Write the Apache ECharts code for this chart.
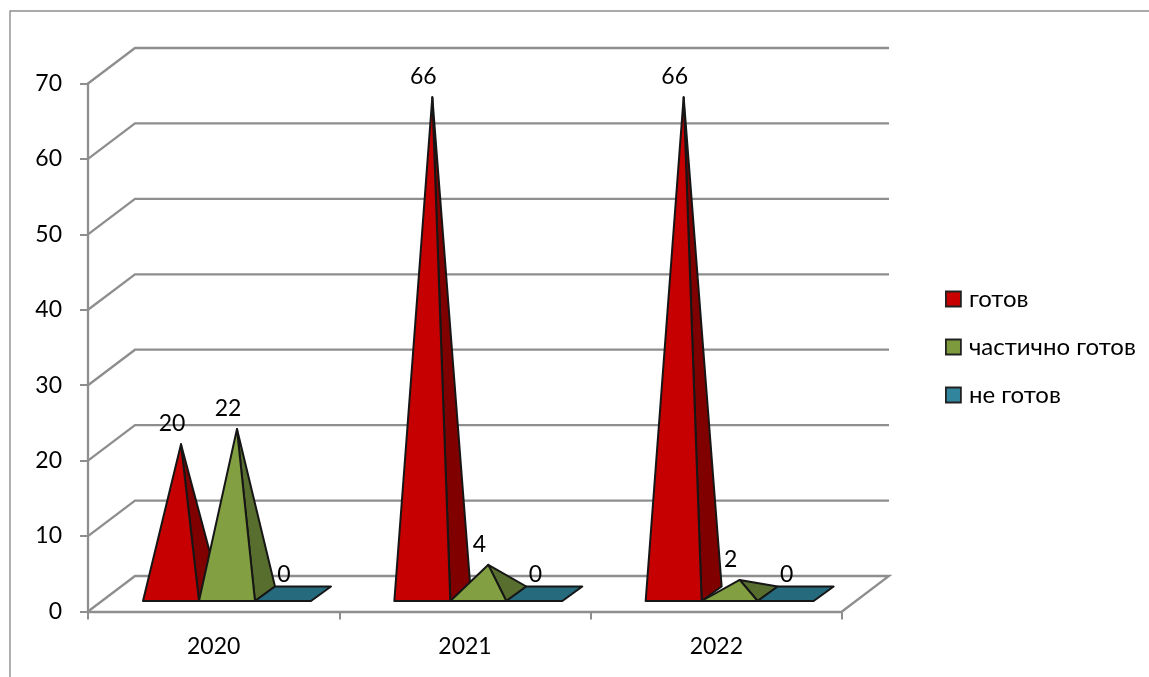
<!DOCTYPE html>
<html>
<head>
<meta charset="utf-8">
<style>html,body{margin:0;padding:0;background:#fff}#c{width:1149px;height:677px}</style>
<script src="https://cdn.jsdelivr.net/npm/echarts@6/dist/echarts.min.js"></script>
</head>
<body>
<div id="c"></div>
<script>
const categories = ['2020', '2021', '2022'];
const ready = [20, 66, 66];
const partial = [22, 4, 2];
const notReady = [0, 0, 0];
const yTicks = [0, 10, 20, 30, 40, 50, 60, 70];
const seriesNames = ['готов', 'частично готов', 'не готов'];

const FONT = 'Lato, Carlito, "Open Sans", sans-serif';
const GRAY = '#8e8e8e';
const INK = '#161616';
const WALL = [47, -35.5];
const DEPTH = [20, -14.5];
const palette = [
  {legend: '#c80000', front: '#c60000', side: '#800000'},
  {legend: '#7d9a3c', front: '#82a041', side: '#586e2e'},
  {legend: '#31859c', front: '#256a7d', side: '#1f5a6a'}
];

function pyramid(idx) {
  return function (params, api) {
    const i = api.value(0), v = api.value(1);
    const band = api.size([1, 0])[0];
    const pt = api.coord([i, v]);
    const zero = api.coord([i, 0]);
    const w = band * 0.2228;
    const x0 = pt[0] - band * 0.2812 + idx * w;
    const x1 = x0 + w;
    const yb = zero[1] - 10.5;
    const st = {stroke: INK, lineWidth: 2, lineJoin: 'round'};
    const c = palette[idx];
    const kids = [];
    const bl = [x0 + DEPTH[0], yb + DEPTH[1]];
    const br = [x1 + DEPTH[0], yb + DEPTH[1]];
    if (v === 0) {
      kids.push({type: 'polygon', shape: {points: [[x0, yb], [x1, yb], br, bl]}, style: Object.assign({fill: c.front}, st)});
    } else {
      const apex = [x0 + w / 2 + DEPTH[0] / 2, pt[1] - 16.5];
      kids.push({type: 'polygon', shape: {points: [[x1, yb], br, apex]}, style: Object.assign({fill: c.side}, st)});
      kids.push({type: 'polygon', shape: {points: [[x0, yb], [x1, yb], apex]}, style: Object.assign({fill: c.front}, st)});
    }
    kids.push({type: 'text', z2: 50, style: {text: String(v), x: x0 + w / 2 + 1, y: pt[1] - 37,
      align: 'center', verticalAlign: 'middle', fill: '#000', font: '23px ' + FONT}});
    return {type: 'group', children: kids};
  };
}

function walls(params, api) {
  const t = api.value(1);
  const band = api.size([1, 0])[0];
  const p = api.coord([0, t]);
  const left = p[0] - band / 2;
  const right = left + band * categories.length;
  const y = p[1];
  const pts = [[left, y], [left + WALL[0], y + WALL[1]], [right + WALL[0], y + WALL[1]]];
  if (t === 0) pts.push([right, y]);
  return {type: 'polyline', shape: {points: pts}, style: {stroke: GRAY, lineWidth: 2.3, fill: null}, silent: true};
}

const chart = echarts.init(document.getElementById('c'), null, {renderer: 'canvas'});
const mk = (name, idx, vals) => ({
  name, type: 'custom', clip: false, z: 5 + idx,
  itemStyle: {color: palette[idx].legend},
  encode: {x: 0, y: 1},
  renderItem: pyramid(idx),
  data: vals.map((v, i) => [i, v])
});
chart.setOption({
  animation: false,
  backgroundColor: '#fff',
  graphic: [{type: 'polyline', silent: true, shape: {points: [[10, 677], [10, 11], [1149, 11]]},
    style: {stroke: GRAY, lineWidth: 1.4, fill: null}}],
  grid: {left: 88, right: 307, top: 83.5, bottom: 65.5},
  legend: {
    orient: 'vertical', left: 940, top: 282, itemWidth: 15, itemHeight: 15, itemGap: 24,
    data: seriesNames, selectedMode: false, icon: 'rect',
    itemStyle: {borderColor: '#222', borderWidth: 1.8},
    textStyle: {fontFamily: FONT, fontSize: 24, lineHeight: 20, color: '#000', padding: [0, 0, 0, 3]}
  },
  xAxis: {
    type: 'category', data: categories, boundaryGap: true,
    axisLine: {show: true, lineStyle: {color: GRAY, width: 2.3}},
    axisTick: {show: true, alignWithLabel: false, length: 8, lineStyle: {color: GRAY, width: 2}},
    axisLabel: {color: '#000', fontFamily: FONT, fontSize: 23, margin: 24},
    splitLine: {show: false}
  },
  yAxis: {
    type: 'value', min: 0, max: 70, interval: 10,
    axisLine: {show: true, lineStyle: {color: GRAY, width: 2.3}},
    axisTick: {show: true, length: 8, lineStyle: {color: GRAY, width: 2}},
    axisLabel: {color: '#000', fontFamily: FONT, fontSize: 23, margin: 26, padding: [5, 0, 0, 0]},
    splitLine: {show: false}
  },
  series: [
    {name: 'walls', type: 'custom', clip: false, z: 1, silent: true, renderItem: walls,
      encode: {x: 0, y: 1}, data: yTicks.map(t => [0, t])},
    mk(seriesNames[0], 0, ready),
    mk(seriesNames[1], 1, partial),
    mk(seriesNames[2], 2, notReady)
  ]
});
</script>
</body>
</html>
